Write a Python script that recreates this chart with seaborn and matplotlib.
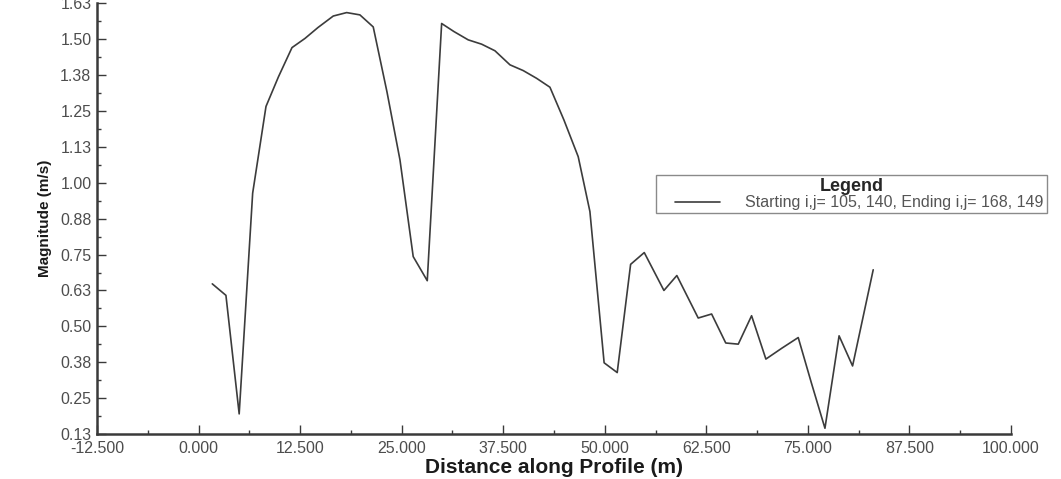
import matplotlib
matplotlib.use("Agg")
import matplotlib.pyplot as plt
import pandas as pd
import seaborn as sns
from matplotlib.legend_handler import HandlerLine2D
from matplotlib.lines import Line2D
from matplotlib.ticker import FixedLocator, FixedFormatter, MultipleLocator

# Velocity magnitude sampled along the profile line
distance_m = [1.69, 3.37, 5.00, 6.66, 8.30, 9.83, 11.50, 13.10, 14.70, 16.58,
              18.23, 19.86, 21.50, 23.19, 24.79, 26.42, 28.15, 29.92, 31.43, 33.19,
              34.84, 36.48, 38.33, 39.96, 41.61, 43.25, 44.97, 46.73, 48.17, 49.92,
              51.53, 53.18, 54.86, 57.28, 58.87, 61.50, 63.15, 64.89, 66.43, 68.07,
              69.83, 71.80, 73.81, 75.43, 77.10, 78.84, 80.50, 83.04]
magnitude_ms = [0.648, 0.608, 0.195, 0.964, 1.266, 1.369, 1.471, 1.503, 1.541, 1.581,
                1.593, 1.585, 1.543, 1.317, 1.080, 0.743, 0.659, 1.555, 1.527, 1.498,
                1.483, 1.460, 1.411, 1.391, 1.364, 1.333, 1.219, 1.091, 0.900, 0.373,
                0.339, 0.716, 0.757, 0.625, 0.677, 0.529, 0.543, 0.442, 0.438, 0.537,
                0.386, 0.424, 0.461, 0.303, 0.145, 0.467, 0.362, 0.697]

x_ticks = [-12.5, 0.0, 12.5, 25.0, 37.5, 50.0, 62.5, 75.0, 87.5, 100.0]
x_tick_labels = ["-12.500", "0.000", "12.500", "25.000", "37.500", "50.000",
                 "62.500", "75.000", "87.500", "100.000"]
y_ticks = [0.125, 0.25, 0.375, 0.5, 0.625, 0.75, 0.875, 1.0, 1.125, 1.25,
           1.375, 1.5, 1.625]
y_tick_labels = ["0.13", "0.25", "0.38", "0.50", "0.63", "0.75", "0.88", "1.00",
                 "1.13", "1.25", "1.38", "1.50", "1.63"]

series_label = "Starting i,j= 105, 140, Ending i,j= 168, 149"
x_title = "Distance along Profile (m)"
y_title = "Magnitude (m/s)"
legend_title = "Legend"

sns.set_style("ticks")
plt.rcParams["font.family"] = ["Liberation Sans", "DejaVu Sans"]

W, H = 1061, 479
fig = plt.figure(figsize=(W / 100, H / 100), dpi=100)
ax = fig.add_axes([97 / W, 45 / H, 914 / W, 430.6 / H])

line_color = "#3c3c3c"
df = pd.DataFrame({"distance": distance_m, "magnitude": magnitude_ms})
sns.lineplot(data=df, x="distance", y="magnitude", sort=False, color=line_color,
             linewidth=1.2, label=series_label, ax=ax)

ax.set_xlim(x_ticks[0], x_ticks[-1])
ax.set_ylim(y_ticks[0], y_ticks[-1])

ax.xaxis.set_major_locator(FixedLocator(x_ticks))
ax.xaxis.set_major_formatter(FixedFormatter(x_tick_labels))
ax.xaxis.set_minor_locator(MultipleLocator(6.25))
ax.yaxis.set_major_locator(FixedLocator(y_ticks))
ax.yaxis.set_major_formatter(FixedFormatter(y_tick_labels))
ax.yaxis.set_minor_locator(MultipleLocator(0.0625))

spine_color = "#3a3a3a"
for side in ("top", "right"):
    ax.spines[side].set_visible(False)
for side in ("left", "bottom"):
    ax.spines[side].set_linewidth(1.8)
    ax.spines[side].set_color(spine_color)

ax.tick_params(which="major", direction="in", length=6.5, width=1.0,
               color=spine_color, labelsize=11.5, labelcolor="#4d4d4d")
ax.tick_params(which="minor", direction="in", length=3, width=1.0, color=spine_color)
ax.tick_params(axis="y", which="major", pad=4)
ax.tick_params(axis="x", which="major", pad=5)

ax.set_xlabel(x_title, fontsize=15, fontweight="bold", color="#1a1a1a")
ax.set_ylabel(y_title, fontsize=11, fontweight="bold", color="#1a1a1a")
ax.xaxis.set_label_coords(0.5, -0.055)
ax.yaxis.set_label_coords(-0.0492, 0.5016)

leg_fs = 11.5
leg = ax.legend(title=legend_title, loc="upper left",
                bbox_to_anchor=(656 / W, 1 - 175 / H), bbox_transform=fig.transFigure,
                borderaxespad=0, fontsize=leg_fs, frameon=True, fancybox=False,
                shadow=False, handlelength=3.8, handletextpad=1.6, borderpad=0.2,
                labelspacing=0.0,
                handler_map={Line2D: HandlerLine2D(xpad=1.0)},
                title_fontproperties={"weight": "bold", "size": 13})
leg.get_frame().set_edgecolor("#8a8a8a")
leg.get_frame().set_linewidth(1.0)
leg.get_frame().set_alpha(1)
for t in leg.get_texts():
    t.set_color("#555555")

fig.savefig("out.png", dpi=100)
